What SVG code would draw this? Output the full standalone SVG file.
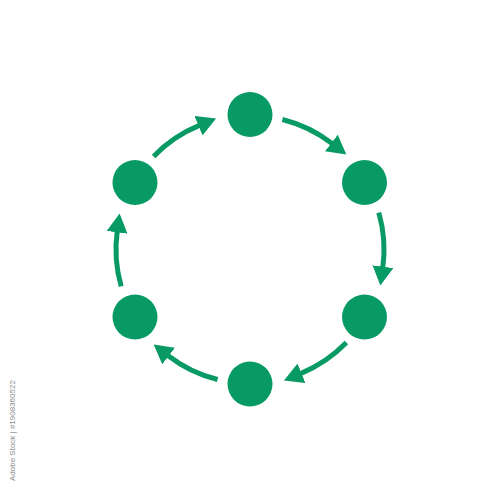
<svg xmlns="http://www.w3.org/2000/svg" width="500" height="500" viewBox="0 0 500 500">
<style>
.node{fill:#079a65}
.arc{fill:none;stroke:#079a65;stroke-width:5;marker-end:url(#ah)}
.wm{font-family:"Liberation Sans",Arial,sans-serif;font-size:8px;fill:#8c8c8c}
</style>
<defs>
<marker id="ah" markerUnits="userSpaceOnUse" markerWidth="19" markerHeight="21" viewBox="0 0 19 21" refX="1" refY="10.5" orient="auto">
<path d="M0,0 L19,10.5 L0,21 z" fill="#079a65"/>
</marker>
</defs>
<rect width="500" height="500" fill="#ffffff"/>
<g id="connectors">
<path class="arc" d="M282.4,119.5 A134,134 0 0 1 332.1,143.6"/>
<path class="arc" d="M378.8,212.6 A134,134 0 0 1 382.8,267.7"/>
<path class="arc" d="M346.4,342.6 A134,134 0 0 1 300.6,373.6"/>
<path class="arc" d="M217.6,379.5 A134,134 0 0 1 167.9,355.4"/>
<path class="arc" d="M121.2,286.4 A134,134 0 0 1 117.2,231.3"/>
<path class="arc" d="M153.6,156.4 A134,134 0 0 1 199.4,125.4"/>
</g>
<g id="node-top"><circle class="node" cx="250" cy="114.5" r="22.5"/></g>
<g id="node-upper-right"><circle class="node" cx="364.5" cy="182.5" r="22.5"/></g>
<g id="node-lower-right"><circle class="node" cx="364.5" cy="317" r="22.5"/></g>
<g id="node-bottom"><circle class="node" cx="250" cy="384" r="22.5"/></g>
<g id="node-lower-left"><circle class="node" cx="135" cy="317" r="22.5"/></g>
<g id="node-upper-left"><circle class="node" cx="135" cy="182.5" r="22.5"/></g>
<text class="wm" transform="translate(15,481) rotate(-90)">Adobe Stock | #1908360522</text>
</svg>
